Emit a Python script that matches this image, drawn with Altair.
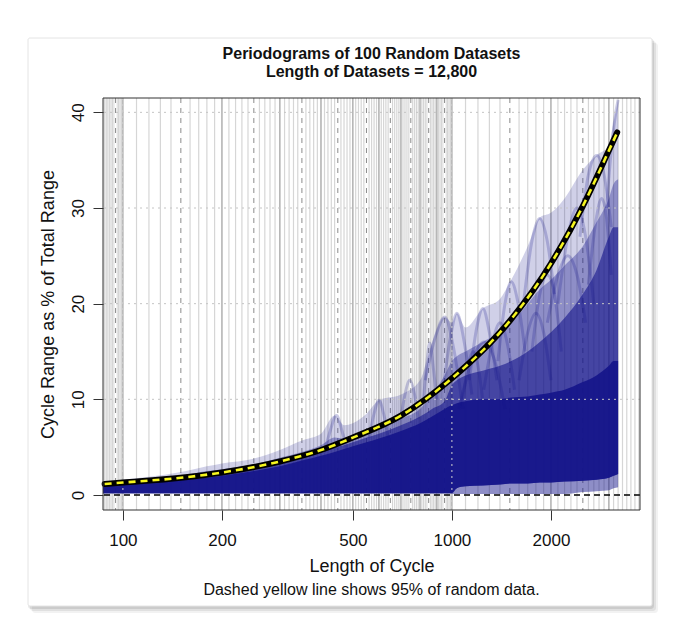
import altair as alt
import pandas as pd

FONT = "Liberation Sans"
NAVY = "#14148a"

title_lines = ["Periodograms of 100 Random Datasets", "Length of Datasets = 12,800"]
x_title = "Length of Cycle"
y_title = "Cycle Range as % of Total Range"
footnote = "Dashed yellow line shows 95% of random data."

x_ticks = [100, 200, 500, 1000, 2000]
y_ticks = [0, 10, 20, 30, 40]

# background vertical guide lines
minor_lines = list(range(87, 100)) + list(range(100, 1001, 10)) + list(range(1100, 3800, 100))
major_lines = [100, 200, 300, 400, 500, 600, 700, 800, 900, 1000, 2000, 3000]
dash_lines = [95, 150, 250, 350, 450, 550, 650, 750, 850, 950, 1500, 2500]
dotted_h = [10, 20, 30, 40]
dotted_v = [100, 1000]

# envelope of the 100 periodograms
env_x = [87, 100, 120, 150, 180, 200, 250, 300, 350, 400, 440, 470, 500, 550, 600, 700, 800, 870,
         950, 1000, 1035, 1100, 1240, 1400, 1515, 1700, 1850, 2000, 2200, 2500, 2750, 3000, 3100, 3200]
max_env = [1.4, 1.6, 1.9, 2.4, 3.0, 3.3, 3.8, 4.7, 5.7, 6.4, 8.3, 7.3, 7.5, 8.5, 9.9, 10.5, 12.0, 15.9,
           18.6, 18.0, 19.0, 17.5, 19.5, 20.5, 22.5, 26.0, 29.0, 29.5, 31.0, 34.0, 35.5, 36.5, 39.0, 41.3]
mid_env = [1.25, 1.4, 1.7, 2.0, 2.5, 2.7, 3.2, 3.9, 4.5, 5.2, 6.0, 5.9, 6.1, 6.6, 7.0, 8.0, 9.0, 10.5,
           12.5, 14.0, 14.5, 15.0, 16.0, 17.0, 18.0, 20.0, 21.5, 22.5, 24.0, 26.0, 28.5, 31.0, 32.5, 33.0]
dense_env = [1.15, 1.3, 1.5, 1.8, 2.1, 2.3, 2.8, 3.4, 4.0, 4.6, 5.0, 5.2, 5.5, 6.0, 6.4, 7.3, 8.2, 9.0,
             9.8, 11.5, 12.0, 12.5, 13.0, 13.5, 14.0, 15.0, 16.0, 17.0, 18.5, 21.0, 23.5, 27.0, 28.0, 28.0]
core_env = [1.0, 1.1, 1.3, 1.55, 1.8, 2.0, 2.5, 3.0, 3.6, 4.1, 4.5, 4.8, 5.1, 5.5, 5.9, 6.7, 7.5, 8.2,
            9.0, 9.4, 9.6, 9.8, 10.0, 10.0, 10.2, 10.3, 10.5, 10.7, 11.0, 11.8, 12.5, 13.5, 14.0, 14.0]
low_light = [0.1] * 29 + [0.3, 0.4, 0.5, 0.7, 0.8]
core_low = [0.2] * 20 + [0.7, 0.9, 1.0, 1.1, 1.2, 1.2, 1.3, 1.3, 1.4, 1.5, 1.6, 1.8, 2.0, 2.2]

# individual visible humps
hump_x = [
    [830, 890, 952, 1010, 1080],
    [940, 990, 1035, 1090, 1150],
    [1130, 1190, 1242, 1300, 1370],
    [1380, 1450, 1515, 1590, 1670],
    [1650, 1750, 1846, 1950, 2050],
    [2450, 2600, 2755, 2900, 3050],
    [1950, 2100, 2250, 2400, 2550],
    [410, 425, 446, 465, 480],
    [2950, 3050, 3150, 3200],
    [1050, 1150, 1250, 1350, 1450],
    [1600, 1700, 1800, 1900, 2000],
    [560, 580, 600, 620, 640],
    [700, 720, 745, 770, 790],
    [820, 840, 857, 880, 900],
    [1080, 1120, 1160, 1200, 1240],
    [2100, 2250, 2400, 2550, 2700],
    [2600, 2750, 2850, 2950, 3050],
    [1750, 1850, 1950, 2050, 2150],
    [1250, 1330, 1400, 1470, 1550],
]
hump_y = [
    [12, 16.5, 18.6, 15.5, 9],
    [11, 16.5, 19.0, 16, 10.5],
    [12, 17.5, 19.5, 17, 12],
    [14, 20, 22.3, 20, 15],
    [20, 26.5, 28.9, 26.5, 21],
    [27, 33.5, 35.5, 33.5, 28],
    [18, 23, 25, 23, 18],
    [4.5, 6.5, 8.3, 6.5, 4.8],
    [30, 36, 40, 41.3],
    [9, 14, 16, 14, 9],
    [12, 17, 19, 17, 12],
    [6, 8.5, 9.9, 8.5, 6],
    [8, 10.5, 12, 10.5, 8],
    [10, 14, 15.9, 13, 10],
    [10, 13.5, 15, 13.5, 10],
    [20, 27, 30, 27, 20],
    [22, 29, 31, 29, 23],
    [15, 21, 23, 21, 15],
    [11, 16, 18, 16, 11],
]
hump_ids = ["h%d" % i for i in range(len(hump_x))]

# 95% threshold curve
thr_x = [88, 100, 150, 200, 300, 400, 500, 700, 1000, 1500, 2000, 2500, 3000, 3180]
thr_y = [1.15, 1.3, 1.8, 2.35, 3.5, 4.7, 6.0, 8.3, 12.2, 18.2, 24.2, 30.2, 36.0, 37.9]

# ---------------------------------------------------------------
xs = alt.Scale(type="log", domain=[87, 3730], nice=False)
ys = alt.Scale(domain=[-1.57, 41.5], nice=False, zero=False)

x_axis = alt.Axis(values=x_ticks, format="d", grid=False, domain=False, tickSize=10,
                  tickColor="#333", labelFontSize=17, labelFont=FONT, labelColor="#111",
                  labelPadding=12, labelFlush=False, title=x_title, titleFont=FONT,
                  titleFontSize=18, titleFontWeight="normal", titleColor="#111",
                  titleY=56, titleBaseline="middle", zindex=2)
y_axis = alt.Axis(values=y_ticks, grid=False, domain=False, tickSize=10, tickColor="#333",
                  labelFontSize=17, labelFont=FONT, labelColor="#111", labelAngle=270,
                  labelAlign="center", labelBaseline="alphabetic", labelPadding=10,
                  title=y_title, titleFont=FONT, titleFontSize=18, titleFontWeight="normal",
                  titleColor="#111", titleX=-55, titleY=206, titleAngle=270,
                  titleAlign="center", titleBaseline="middle", zindex=2)


def X(f):
    return alt.X(f, type="quantitative", scale=xs, axis=x_axis)


def Y(f):
    return alt.Y(f, type="quantitative", scale=ys, axis=y_axis)


one = pd.DataFrame({"a": [0]})
card_layers = []
for dx, dy, op in [(6, 7, 0.05), (4, 5, 0.07), (2, 3, 0.09)]:
    card_layers.append(
        alt.Chart(one).mark_rect(fill="black", opacity=op, cornerRadius=3).encode(
            x=alt.value(-75 + dx - 2), x2=alt.value(549 + dx),
            y=alt.value(-60 + dy - 2), y2=alt.value(508 + dy))
    )
card = alt.Chart(one).mark_rect(fill="white", stroke="#e4e4e4", strokeWidth=1, cornerRadius=2).encode(
    x=alt.value(-75), x2=alt.value(549), y=alt.value(-60), y2=alt.value(508))

minor = alt.Chart(pd.DataFrame({"v": minor_lines})).mark_rule(
    color="#d6d6d6", strokeWidth=1.2, clip=True).encode(x=X("v"))
white_under = alt.Chart(pd.DataFrame({"v": dash_lines})).mark_rule(
    color="white", strokeWidth=2, clip=True).encode(x=X("v"))
dashed = alt.Chart(pd.DataFrame({"v": dash_lines})).mark_rule(
    color="#8c8c8c", strokeWidth=1, strokeDash=[5, 5], clip=True).encode(x=X("v"))
major = alt.Chart(pd.DataFrame({"v": major_lines})).mark_rule(
    color="#a0a0a0", strokeWidth=1, clip=True).encode(x=X("v"))

env = pd.DataFrame({"x": env_x, "mx": max_env, "md": mid_env, "dn": dense_env,
                    "co": core_env, "lo": low_light, "cl": core_low})
band_light = alt.Chart(env).mark_area(color=NAVY, opacity=0.2, interpolate="monotone", clip=True).encode(
    x=X("x"), y=Y("lo"), y2="mx")
band_mid = alt.Chart(env).mark_area(color=NAVY, opacity=0.35, interpolate="monotone", clip=True).encode(
    x=X("x"), y=Y("lo"), y2="md")
band_dense = alt.Chart(env).mark_area(color=NAVY, opacity=0.6, interpolate="monotone", clip=True).encode(
    x=X("x"), y=Y("cl"), y2="dn")
band_core = alt.Chart(env).mark_area(color=NAVY, opacity=0.9, interpolate="monotone", clip=True).encode(
    x=X("x"), y=Y("cl"), y2="co")

hump_rows = []
for hid, hx, hy in zip(hump_ids, hump_x, hump_y):
    for a, b in zip(hx, hy):
        hump_rows.append({"id": hid, "x": a, "y": b})
humps = alt.Chart(pd.DataFrame(hump_rows)).mark_line(
    color=NAVY, opacity=0.22, strokeWidth=3, interpolate="monotone", clip=True).encode(
    x=X("x"), y=Y("y"), detail="id:N")

hgrid = alt.Chart(pd.DataFrame({"v": dotted_h})).mark_rule(
    color="#c4c4c4", strokeWidth=1, strokeDash=[2, 4]).encode(y=Y("v"))
vgrid = alt.Chart(pd.DataFrame({"v": dotted_v})).mark_rule(
    color="#d0d0d0", strokeWidth=1, strokeDash=[2, 4], clip=True).encode(x=X("v"))
zero = alt.Chart(pd.DataFrame({"v": [0]})).mark_rule(
    color="black", strokeWidth=1.3, strokeDash=[6, 4]).encode(y=Y("v"))

thr = pd.DataFrame({"x": thr_x, "y": thr_y})
thr_black = alt.Chart(thr).mark_line(color="black", strokeWidth=6, interpolate="monotone",
                                     strokeCap="round").encode(x=X("x"), y=Y("y"))
thr_yellow = alt.Chart(thr).mark_line(color="#f5f51e", strokeWidth=2.6, strokeDash=[7, 5],
                                      interpolate="monotone").encode(x=X("x"), y=Y("y"))

frame = alt.Chart(one).mark_rect(fill=None, stroke="#333", strokeWidth=1).encode(
    x=alt.value(0), x2=alt.value(537), y=alt.value(0), y2=alt.value(412))

foot = alt.Chart(pd.DataFrame({"t": [footnote]})).mark_text(
    font=FONT, fontSize=16, color="#111", align="center", baseline="middle").encode(
    x=alt.value(268.5), y=alt.value(492), text="t:N")

chart = alt.layer(
    *card_layers, card, minor, white_under, dashed, major,
    band_light, band_mid, band_dense, band_core, humps,
    hgrid, vgrid, zero, thr_black, thr_yellow, frame, foot
).properties(
    width=537, height=412,
    title=alt.TitleParams(title_lines, font=FONT, fontSize=16, fontWeight="bold", color="#111",
                          anchor="middle", offset=-42, lineHeight=18),
    padding={"left": 95, "top": 90, "right": 27, "bottom": 125},
    autosize=alt.AutoSizeParams(type="none"),
).configure_view(stroke=None).configure(background="white")

chart.save("out.html", embed_options={"renderer": "svg", "actions": False})
